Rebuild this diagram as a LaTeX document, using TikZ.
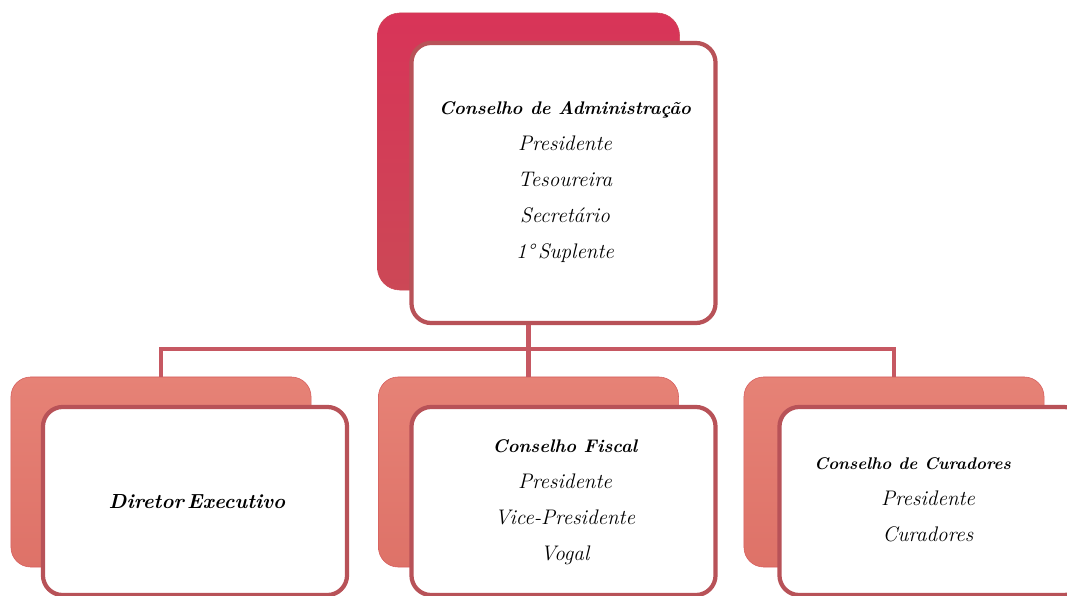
\documentclass[tikz,border=0pt]{standalone}
\usepackage{tikz}
\usetikzlibrary{positioning, calc}

\definecolor{crimsontop}{RGB}{216,52,88}
\definecolor{crimsonbot}{RGB}{204,72,86}
\definecolor{salmontop}{RGB}{230,130,118}
\definecolor{salmonbot}{RGB}{222,114,104}
\definecolor{backedge}{RGB}{214,92,92}
\definecolor{rimred}{RGB}{184,82,88}
\definecolor{linkred}{RGB}{198,88,98}

\newcommand{\boxtitle}[2][13]{{\fontsize{#1}{25.6}\selectfont\bfseries #2}}

\begin{document}
\begin{tikzpicture}[
    x=0.025cm, y=-0.025cm,
    % Define styles for consistency
    headback/.style={rounded corners=16pt, top color=crimsontop, bottom color=crimsonbot,
        draw=crimsonbot, thin, minimum width=7.55cm, minimum height=6.925cm, inner sep=0pt},
    subback/.style={rounded corners=14pt, top color=salmontop, bottom color=salmonbot,
        draw=backedge, thin, minimum width=7.5cm, minimum height=4.75cm, inner sep=0pt},
    frontbox/.style={rounded corners=14pt, fill=white, draw=rimred, line width=3pt,
        minimum width=7.6cm, inner sep=0pt},
    boxtext/.style={align=center, font=\fontsize{15}{25.6}\selectfont\itshape, text=black},
    link/.style={draw=linkred, line width=3pt}
]
    \useasboundingbox (0,0) rectangle (1067,596);

    % ---------------------------------------------------------
    % 1. Back plates
    % ---------------------------------------------------------
    \node[headback] (admback) at (528.5,151.5) {};
    \node[subback] (dirback) at (161,472) {};
    \node[subback] (fisback) at (528.5,472) {};
    \node[subback] (curback) at (894,472) {};

    % ---------------------------------------------------------
    % 2. Front box of the board
    % ---------------------------------------------------------
    \node[frontbox, minimum height=7.0cm] (adm) at (563.5,183) {};

    % ---------------------------------------------------------
    % 3. Connectors
    % ---------------------------------------------------------
    \coordinate (bus) at (0,349);
    \draw[link] (dirback.north) -- (dirback.north |- bus) -- (curback.north |- bus) -- (curback.north);
    \draw[link] (fisback.north |- adm.south) -- (fisback.north);

    % ---------------------------------------------------------
    % 4. Lower front boxes
    % ---------------------------------------------------------
    \node[frontbox, minimum height=4.7cm] (dir) at (195,501) {};
    \node[frontbox, minimum height=4.7cm] (fis) at (563.5,501) {};
    \node[frontbox, minimum height=4.7cm] (cur) at (931.5,501) {};

    % ---------------------------------------------------------
    % 5. Texts
    % ---------------------------------------------------------
    \node[boxtext] (admtext) at (565,182) {\boxtitle{Conselho de Administração}\\ Presidente\\ Tesoureira\\ Secretário\\ 1°\,Suplente};
    \node[boxtext] (dirtext) at (197,502) {\boxtitle[14.5]{Diretor\,Executivo}};
    \node[boxtext] (fistext) at (565,502) {\boxtitle{Conselho Fiscal}\\ Presidente\\ Vice-Presidente\\ Vogal};
    \node[boxtext] (curtext) at (928,500) {\boxtitle[12]{Conselho de Curadores}\hspace*{22pt}\\ Presidente\\ Curadores};
\end{tikzpicture}
\end{document}
